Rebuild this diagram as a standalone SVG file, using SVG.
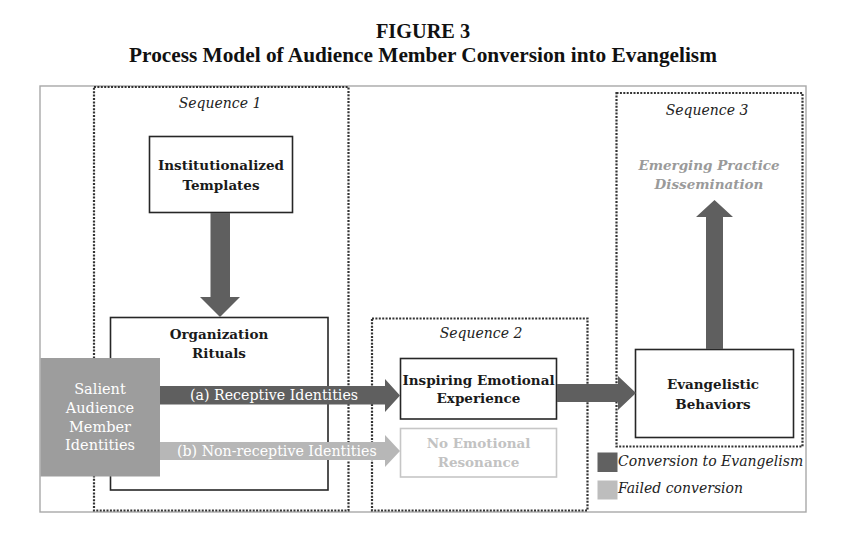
<svg xmlns="http://www.w3.org/2000/svg" width="852" height="543" viewBox="0 0 852 543">
<style>
.title{font-family:"Liberation Serif","Times New Roman",serif;font-weight:bold;font-size:21.3px;fill:#111;text-anchor:middle}
.lbl{font-family:"DejaVu Serif",serif;font-weight:bold;font-size:13.5px;fill:#1a1a1a;text-anchor:middle}
.seq{font-family:"DejaVu Serif",serif;font-style:italic;font-size:14px;fill:#222;text-anchor:middle}
.wht{font-family:"DejaVu Serif",serif;font-size:14.5px;fill:#fff;text-anchor:middle}
.arrlbl{font-family:"DejaVu Serif",serif;font-size:14.2px;fill:#fff}
.leg{font-family:"DejaVu Serif",serif;font-style:italic;font-size:14px;fill:#222}
.box{fill:#fff;stroke:#262626;stroke-width:1.6}
.dot{fill:none;stroke:#333;stroke-width:2.2;stroke-dasharray:2 1.4}
.dark{fill:#5f5f5f}
.light{fill:#b7b7b7}
</style>
<rect width="852" height="543" fill="#fff"/>
<text class="title" x="423" y="38" style="font-size:20.3px">FIGURE 3</text>
<text class="title" x="423" y="62">Process Model of Audience Member Conversion into Evangelism</text>
<rect x="40" y="86" width="766" height="426" fill="none" stroke="#a8a8a8" stroke-width="1.4"/>

<g id="sequence1">
<rect class="dot" x="94" y="87" width="254.5" height="423.5"/>
<text class="seq" x="220" y="108">Sequence 1</text>
</g>
<g id="sequence2">
<rect class="dot" x="372" y="318.5" width="215.5" height="192"/>
<text class="seq" x="481" y="338">Sequence 2</text>
</g>
<g id="sequence3">
<rect class="dot" x="616.5" y="93" width="186" height="353.5"/>
<text class="seq" x="707" y="115">Sequence 3</text>
</g>

<g id="templates">
<rect class="box" x="149.5" y="136.5" width="143" height="76"/>
<text class="lbl" x="221" y="170">Institutionalized</text>
<text class="lbl" x="221" y="190">Templates</text>
</g>
<g id="rituals">
<rect class="box" x="110.5" y="317.5" width="217.5" height="172.5"/>
<text class="lbl" x="219" y="339">Organization</text>
<text class="lbl" x="219" y="358">Rituals</text>
</g>
<g id="salient">
<rect x="40.5" y="358" width="119.5" height="118.5" fill="#9d9d9d"/>
<text class="wht" x="100" y="394">Salient</text>
<text class="wht" x="100" y="413">Audience</text>
<text class="wht" x="100" y="431.5">Member</text>
<text class="wht" x="100" y="450">Identities</text>
</g>
<g id="inspiring">
<rect class="box" x="400.5" y="358.5" width="156" height="60.5"/>
<text class="lbl" x="478.5" y="385">Inspiring Emotional</text>
<text class="lbl" x="478.5" y="403">Experience</text>
</g>
<g id="noresonance">
<rect x="400.5" y="428.5" width="156" height="48.5" fill="#fff" stroke="#c6c6c6" stroke-width="1.6"/>
<text class="lbl" x="478.5" y="448" style="fill:#c2c2c2">No Emotional</text>
<text class="lbl" x="478.5" y="467" style="fill:#c2c2c2">Resonance</text>
</g>
<g id="evangelistic">
<rect class="box" x="635.5" y="349.5" width="158" height="88"/>
<text class="lbl" x="713" y="389">Evangelistic</text>
<text class="lbl" x="713" y="409">Behaviors</text>
</g>
<g id="dissemination">
<text class="lbl" x="709" y="170" style="font-style:italic;fill:#9a9a9a">Emerging Practice</text>
<text class="lbl" x="709" y="189" style="font-style:italic;fill:#9a9a9a">Dissemination</text>
</g>

<g id="connectors">
<polygon class="dark" points="210.5,213 230,213 230,297 240,297 220,317 200,297 210.5,297"/>
<polygon class="dark" points="160,386 385,386 385,379 400,395.5 385,412 385,404.5 160,404.5"/>
<text class="arrlbl" x="190" y="400">(a) Receptive Identities</text>
<polygon class="light" points="160,442 385,442 385,435 400,451 385,467 385,460 160,460"/>
<text class="arrlbl" x="177" y="456">(b) Non-receptive Identities</text>
<polygon class="dark" points="557,384 618,384 618,376 636,393 618,410 618,402 557,402"/>
<polygon class="dark" points="706,349 723,349 723,217 733,217 714.5,200 696,217 706,217"/>
</g>

<g id="legend">
<rect class="dark" x="597.5" y="452.5" width="20" height="19.5" style="fill:#616161"/>
<text class="leg" x="618" y="466">Conversion to Evangelism</text>
<rect class="light" x="597.5" y="480.5" width="20" height="19" style="fill:#bdbdbd"/>
<text class="leg" x="618" y="493">Failed conversion</text>
</g>
</svg>
